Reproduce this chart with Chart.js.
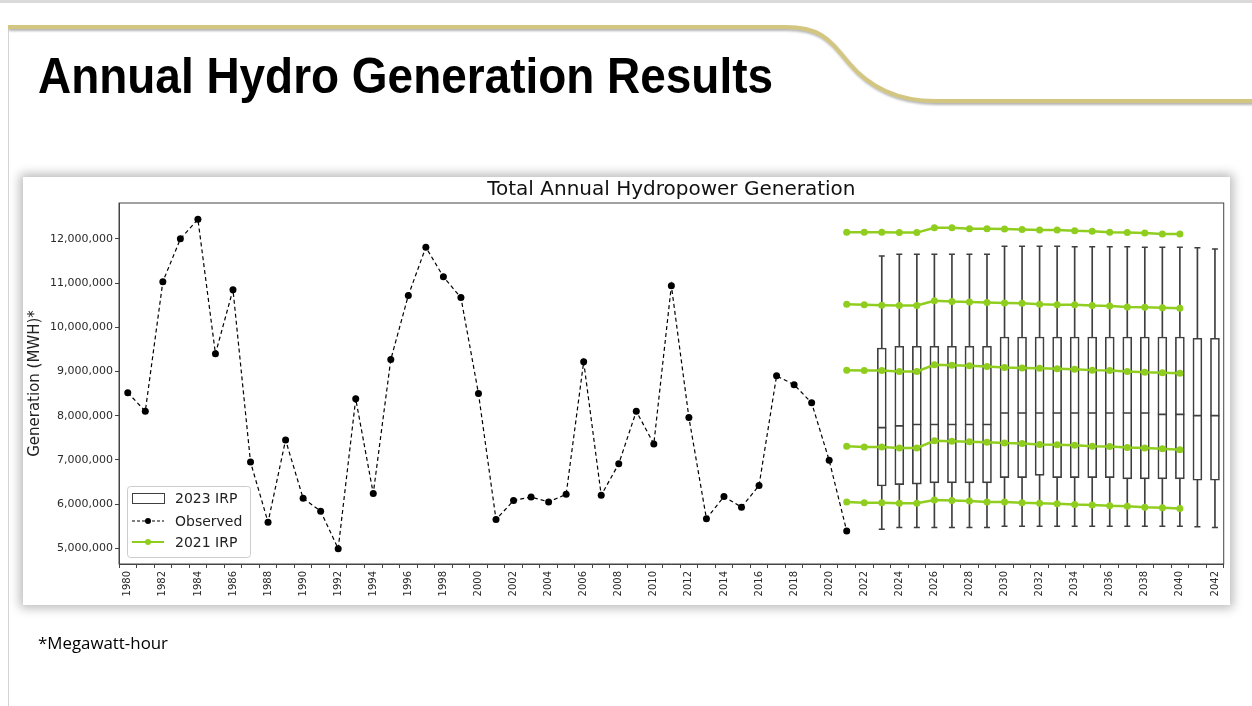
<!DOCTYPE html>
<html>
<head>
<meta charset="utf-8">
<script src="https://cdn.jsdelivr.net/npm/chart.js@4.4.0/dist/chart.umd.min.js"></script>
<style>
  html, body { margin: 0; padding: 0; background: #fff; }
  body { width: 1252px; height: 706px; position: relative; overflow: hidden; }
  .topbar { position: absolute; left: 0; top: 0; width: 1252px; height: 3px; background: #dadada; }
  .leftline { position: absolute; left: 8px; top: 26px; width: 1px; height: 680px; background: #d4d4d4; }
  svg.swoosh { position: absolute; left: 0; top: 0; }
  h1 { position: absolute; left: 38px; top: 51px; margin: 0; line-height: 50px; white-space: nowrap;
       font-family: 'Liberation Sans', Arial, sans-serif; font-weight: bold; font-size: 50px; color: #000;
       transform-origin: left top; }
  .card { position: absolute; left: 23px; top: 177px; width: 1207px; height: 428px; background: #fff;
          box-shadow: 0 0 10px 3px rgba(0,0,0,0.28); }
  .note { position: absolute; left: 38px; top: 632px; white-space: nowrap;
          font-family: 'Open Sans', sans-serif; font-size: 16px; color: #000; transform-origin: left top; }
</style>
</head>
<body>
<div class="topbar"></div>
<div class="leftline"></div>
<svg class="swoosh" width="1252" height="120">
  <defs>
    <filter id="sh" x="-5%" y="-50%" width="110%" height="200%">
      <feDropShadow dx="1" dy="2" stdDeviation="1.2" flood-color="#777" flood-opacity="0.55"/>
    </filter>
  </defs>
  <path d="M8 27 L785 27 C820 27 828 38 848 62 S 895 101 935 101 L1252 101"
        fill="none" stroke="#d3c681" stroke-width="4" filter="url(#sh)"/>
</svg>
<h1 id="head">Annual Hydro Generation Results</h1>
<div class="card"><canvas id="hydro" width="1207" height="428"></canvas></div>
<div class="note" id="note">*Megawatt-hour</div>

<script>
// categories: one per year, 1980..2042
const years = Array.from({ length: 63 }, (_, i) => String(1980 + i));

// observed generation, MWh, 1980..2021
const observedStart = 1980;
const observed = [
  8520000, 8100000, 11030000, 12000000, 12440000, 9400000, 10850000, 6950000, 5590000, 7450000,
  6130000, 5840000, 4990000, 8380000, 6240000, 9270000, 10720000, 11810000, 11140000, 10670000,
  8500000, 5650000, 6080000, 6160000, 6050000, 6220000, 9220000, 6200000, 6910000, 8100000,
  7360000, 10940000, 7960000, 5670000, 6170000, 5930000, 6420000, 8900000, 8700000, 8290000,
  6990000, 5390000
];

// 2021 IRP traces, 2021..2040
const irpStart = 2021;
const irpHigh  = [12150000, 12150000, 12150000, 12140000, 12140000, 12250000, 12250000, 12230000, 12230000, 12220000,
                  12210000, 12200000, 12200000, 12180000, 12170000, 12150000, 12140000, 12130000, 12110000, 12110000];
const irpUpper = [10520000, 10510000, 10500000, 10490000, 10490000, 10600000, 10580000, 10570000, 10560000, 10550000,
                  10540000, 10520000, 10510000, 10510000, 10490000, 10480000, 10460000, 10450000, 10440000, 10430000];
const irpMid   = [9030000, 9020000, 9020000, 9000000, 9000000, 9150000, 9140000, 9130000, 9110000, 9090000,
                  9080000, 9070000, 9060000, 9050000, 9030000, 9020000, 9000000, 8980000, 8970000, 8960000];
const irpLower = [7310000, 7290000, 7290000, 7270000, 7270000, 7430000, 7420000, 7410000, 7400000, 7380000,
                  7370000, 7350000, 7340000, 7330000, 7310000, 7300000, 7280000, 7270000, 7250000, 7230000];
const irpLow   = [6050000, 6030000, 6030000, 6020000, 6020000, 6090000, 6080000, 6070000, 6050000, 6050000,
                  6030000, 6020000, 6010000, 5990000, 5980000, 5960000, 5950000, 5930000, 5920000, 5900000];

// 2023 IRP box plots, 2023..2042
const boxStart = 2023;
const boxMax    = [11610000, 11650000, 11650000, 11650000, 11650000, 11650000, 11650000, 11830000, 11830000, 11830000,
                   11830000, 11820000, 11820000, 11820000, 11820000, 11810000, 11810000, 11810000, 11800000, 11770000];
const boxQ3     = [9530000, 9570000, 9570000, 9570000, 9570000, 9570000, 9570000, 9780000, 9780000, 9780000,
                   9780000, 9780000, 9780000, 9780000, 9780000, 9780000, 9780000, 9780000, 9750000, 9750000];
const boxMedian = [7730000, 7770000, 7800000, 7800000, 7800000, 7800000, 7800000, 8060000, 8060000, 8060000,
                   8060000, 8060000, 8060000, 8060000, 8060000, 8060000, 8030000, 8030000, 8000000, 8000000];
const boxQ1     = [6410000, 6440000, 6450000, 6480000, 6480000, 6480000, 6480000, 6600000, 6600000, 6650000,
                   6600000, 6600000, 6600000, 6600000, 6570000, 6570000, 6570000, 6570000, 6540000, 6540000];
const boxMin    = [5430000, 5470000, 5470000, 5470000, 5470000, 5470000, 5470000, 5500000, 5500000, 5500000,
                   5500000, 5500000, 5500000, 5500000, 5500000, 5500000, 5500000, 5500000, 5490000, 5470000];

// y axis
const yTickValues = [5000000, 6000000, 7000000, 8000000, 9000000, 10000000, 11000000, 12000000];
const yMin = 4645000;
const yMax = 12810000;

const green = '#8fce1f';
const boxEdge = '#3f3f3f';

const at = (start, arr) => arr.map((v, i) => ({ x: String(start + i), y: v }));
const span = (lo, hi) => lo.map((v, i) => ({ x: String(boxStart + i), y: [v, hi[i]] }));

function irpLine(arr) {
  return {
    type: 'line', label: '2021 IRP', data: at(irpStart, arr),
    borderColor: green, borderWidth: 2.5, pointRadius: 3.5, pointBackgroundColor: green,
    pointBorderWidth: 0, order: 1
  };
}
function tick(arr, r, lw) {
  return {
    type: 'line', label: 'tick', data: at(boxStart, arr), showLine: false,
    pointStyle: 'line', pointRadius: r, pointBorderColor: boxEdge, pointBorderWidth: lw, order: 3
  };
}

const datasets = [
  { type: 'line', label: 'Observed', data: at(observedStart, observed),
    borderColor: '#000', borderWidth: 1.2, borderDash: [4, 3], pointRadius: 3.5,
    pointBackgroundColor: '#000', pointBorderWidth: 0, order: 0 },
  irpLine(irpHigh), irpLine(irpUpper), irpLine(irpMid), irpLine(irpLower), irpLine(irpLow),
  { type: 'bar', label: '2023 IRP', data: span(boxQ1, boxQ3), grouped: false,
    backgroundColor: 'rgba(255,255,255,0)', borderColor: boxEdge, borderWidth: 1,
    borderSkipped: false, barThickness: 9, order: 4 },
  { type: 'bar', label: 'whisker', data: span(boxMin, boxQ1), grouped: false,
    backgroundColor: boxEdge, borderWidth: 0, barThickness: 1, order: 5 },
  { type: 'bar', label: 'whisker', data: span(boxQ3, boxMax), grouped: false,
    backgroundColor: boxEdge, borderWidth: 0, barThickness: 1, order: 5 },
  tick(boxMin, 3, 1.5), tick(boxMax, 3, 1.5), tick(boxMedian, 4.5, 1.6)
];

const frame = {
  id: 'frame',
  beforeDatasetsDraw(chart) {
    const { ctx, chartArea: a } = chart;
    ctx.save();
    ctx.strokeStyle = '#444';
    ctx.lineWidth = 1;
    ctx.strokeRect(a.left, a.top, a.right - a.left, a.bottom - a.top);
    ctx.restore();
  }
};

const legendBox = {
  id: 'legendBox',
  afterDraw(chart) {
    const { ctx, chartArea: a } = chart;
    const w = 123, h = 71;
    const x = a.left + 8, y = a.bottom - 7 - h;
    ctx.save();
    ctx.fillStyle = 'rgba(255,255,255,0.85)';
    ctx.strokeStyle = '#cccccc';
    ctx.lineWidth = 1;
    ctx.beginPath();
    ctx.roundRect(x + 0.5, y + 0.5, w, h, 3);
    ctx.fill();
    ctx.stroke();

    const sx = x + 5, sw = 32, tx = x + 48;
    const rows = [y + 12, y + 35, y + 56];
    // 2023 IRP
    ctx.strokeStyle = boxEdge;
    ctx.strokeRect(sx + 0.5, rows[0] - 5 + 0.5, sw, 10);
    // Observed
    ctx.strokeStyle = '#000';
    ctx.lineWidth = 1.2;
    ctx.setLineDash([3, 2]);
    ctx.beginPath(); ctx.moveTo(sx, rows[1]); ctx.lineTo(sx + sw, rows[1]); ctx.stroke();
    ctx.setLineDash([]);
    ctx.fillStyle = '#000';
    ctx.beginPath(); ctx.arc(sx + sw / 2, rows[1], 3, 0, Math.PI * 2); ctx.fill();
    // 2021 IRP
    ctx.strokeStyle = green;
    ctx.lineWidth = 2;
    ctx.beginPath(); ctx.moveTo(sx, rows[2]); ctx.lineTo(sx + sw, rows[2]); ctx.stroke();
    ctx.fillStyle = green;
    ctx.beginPath(); ctx.arc(sx + sw / 2, rows[2], 3, 0, Math.PI * 2); ctx.fill();

    ctx.fillStyle = '#222';
    ctx.font = '14px "DejaVu Sans"';
    ctx.textBaseline = 'middle';
    ['2023 IRP', 'Observed', '2021 IRP'].forEach((t, i) => ctx.fillText(t, tx, rows[i] + 1));
    ctx.restore();
  }
};

new Chart(document.getElementById('hydro').getContext('2d'), {
  type: 'bar',
  data: { labels: years, datasets },
  options: {
    responsive: false,
    animation: false,
    events: [],
    layout: { padding: { left: 0, right: 3, top: 0, bottom: 0 } },
    plugins: {
      legend: { display: false },
      tooltip: { enabled: false },
      title: {
        display: true, text: 'Total Annual Hydropower Generation', fullSize: false,
        color: '#111', font: { family: 'DejaVu Sans', size: 20, weight: 'normal' },
        padding: { top: 1, bottom: 1 }
      }
    },
    scales: {
      x: {
        type: 'category', offset: true,
        grid: { display: true, drawOnChartArea: false, drawTicks: true, tickLength: 4, color: '#444' },
        border: { display: true, color: '#444' },
        ticks: {
          autoSkip: false, minRotation: 90, maxRotation: 90, padding: 3, color: '#2a2a2a',
          font: { family: 'DejaVu Sans', size: 10 },
          callback: function (v) {
            const yr = Number(this.getLabelForValue(v));
            return yr % 2 === 0 ? String(yr) : '';
          }
        },
        afterFit: s => { s.height = 41; }
      },
      y: {
        min: yMin, max: yMax,
        grid: { display: true, drawOnChartArea: false, drawTicks: true, tickLength: 4, color: '#444' },
        border: { display: true, color: '#444' },
        afterBuildTicks: s => { s.ticks = yTickValues.map(v => ({ value: v })); },
        ticks: {
          padding: 2, color: '#2a2a2a', font: { family: 'DejaVu Sans', size: 11 },
          callback: v => v.toLocaleString('en-US')
        },
        title: {
          display: true, text: 'Generation (MWH)*', color: '#222',
          font: { family: 'DejaVu Sans', size: 15 }, padding: { top: 3, bottom: 0 }
        },
        afterFit: s => { s.width = 96; }
      }
    }
  },
  plugins: [frame, legendBox]
});

// squeeze the slide heading and footnote to the reference widths
function fitWidth(id, target) {
  const el = document.getElementById(id);
  const w = el.getBoundingClientRect().width;
  el.style.transform = 'scaleX(' + (target / w) + ')';
}
fitWidth('head', 735);
fitWidth('note', 130);
</script>
</body>
</html>
